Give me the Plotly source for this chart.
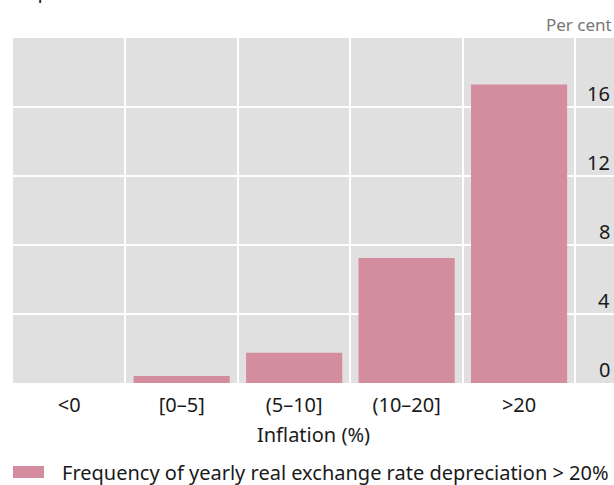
import plotly.graph_objects as go

categories = ["<0", "[0–5]", "(5–10]", "(10–20]", ">20"]
values = [0.0, 0.4, 1.75, 7.25, 17.3]
y_ticks = [0, 4, 8, 12, 16]
series_name = "Frequency of yearly real exchange rate depreciation > 20%"

BAR = "#D48C9F"
FONT = "Noto Sans, Open Sans, sans-serif"

fig = go.Figure()
fig.add_trace(go.Bar(x=categories, y=values, marker=dict(color=BAR, line=dict(width=0)),
                     name=series_name, showlegend=False))

H_PLOT = 345.0
def py(px):
    return (383 - px) / H_PLOT
W_PLOT = 601.0
def pxx(px):
    return (px - 13) / W_PLOT

annotations = [
    dict(text=str(v), xref="paper", yref="y", x=pxx(612), y=v, xanchor="right",
         yanchor="bottom", yshift=-2, showarrow=False, font=dict(size=20, color="#1a1a1a"))
    for v in y_ticks
]
annotations += [
    dict(text=series_name, xref="paper", yref="paper", x=pxx(60), y=py(472),
         xanchor="left", yanchor="middle", showarrow=False,
         font=dict(size=20, color="#1a1a1a")),
    dict(text="Per cent", xref="paper", yref="paper", x=1.0, y=py(25), xanchor="right",
         yanchor="middle", showarrow=False, font=dict(size=17, color="#777777")),
    dict(text="depreciation and inflation", xref="paper", yref="paper", x=pxx(12), y=py(-9),
         xanchor="left", yanchor="middle", showarrow=False,
         font=dict(size=20, color="#1a1a1a")),
]

fig.update_layout(
    width=614, height=485,
    margin=dict(l=13, r=0, t=38, b=102),
    paper_bgcolor="white", plot_bgcolor="#E0E0E0",
    font=dict(family=FONT, size=20, color="#1a1a1a"),
    bargap=0.145,
    showlegend=False,
    xaxis=dict(type="category", range=[-0.5, 4.844], tickson="boundaries",
               showgrid=True, gridcolor="white", gridwidth=2, ticks="", showline=False,
               zeroline=False, ticklabelstandoff=8,
               title=dict(text="Inflation (%)", font=dict(size=20), standoff=10),
               tickfont=dict(size=20)),
    yaxis=dict(range=[0, 20], side="right", tickvals=y_ticks, showticklabels=False,
               showgrid=True, gridcolor="white", gridwidth=2, ticks="", showline=False,
               zeroline=False),
    shapes=[
        dict(type="rect", xref="paper", yref="paper", x0=pxx(13), x1=pxx(44),
             y0=py(478), y1=py(466), fillcolor=BAR, line=dict(width=0)),
    ],
    annotations=annotations,
)

fig.write_html("out.html", config={"displayModeBar": False},
               post_script="document.body.style.margin='0px';document.body.style.overflow='hidden';")
